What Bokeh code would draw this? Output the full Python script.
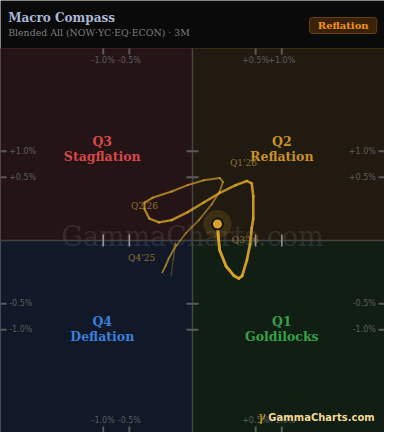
import numpy as np
from bokeh.plotting import figure
from bokeh.models import Range1d
from bokeh.core.properties import value
from bokeh.embed import file_html
from bokeh.resources import INLINE

# ---------------- data (percent units) ----------------
path_x = [-0.0575, -0.0463, -0.0362, -0.0560, -0.0906, -0.1147, -0.0906, -0.0723,
          -0.0322, -0.0052, 0.0052, 0.0463, 0.0926, 0.1162, 0.0926, 0.0158,
          -0.0029, -0.0544, -0.2011, -0.2890, -0.2890, -0.2341, -0.1416, -0.0544,
          -0.0029, 0.0158, 0.0926, 0.2341, 0.3717, 0.4401, 0.4633, 0.4633,
          0.4401, 0.4163, 0.3717, 0.3090, 0.2698, 0.2168, 0.1416, 0.0926,
          0.0824, 0.0782]
path_y = [-0.1566, -0.0458, -0.0010, -0.0224, -0.0834, -0.1284, -0.0773, -0.0400,
          -0.0032, 0.0073, 0.0519, 0.1652, 0.3010, 0.4298, 0.4907, 0.4540,
          0.3848, 0.3010, 0.2286, 0.1803, 0.1246, 0.0605, 0.0413, 0.0519,
          0.1009, 0.1803, 0.2826, 0.3848, 0.4440, 0.4077, 0.2452, 0.0605,
          0.0193, -0.0016, -0.0471, -0.1566, -0.1803, -0.1566, -0.0834, -0.0121,
          0.0045, 0.0342]

quarter_labels = ["Q4'25", "Q1'26", "Q2'26", "Q3'26"]
quarter_x = [-0.3248, 0.3248, -0.2890, 0.3498]
quarter_y = [-0.0371, 0.7505, 0.1482, 0.0001]

tick_values = [-1.0, -0.5, 0.5, 1.0]
tick_labels = ["-1.0%", "-0.5%", "+0.5%", "+1.0%"]

quadrant_codes = ["Q3", "Q2", "Q4", "Q1"]
quadrant_names = ["Stagflation", "Reflation", "Deflation", "Goldilocks"]

title_text = "Macro Compass"
subtitle_text = "Blended All (NOW\u00b7YC\u00b7EQ\u00b7ECON) \u00b7 3M"
regime_text = "Reflation"
brand_text = "GammaCharts.com"

# ---------------- helpers ----------------
def sq(v):
    v = np.asarray(v, dtype=float)
    return np.sign(v) * np.sqrt(np.abs(v))

R = 2.15
U = 4.3 / 384.0          # data units per screen pixel
HDR = 48 * U

def X(px):               # reference-pixel layout -> data
    return (px - 200) * 0.01075

def Y(py):
    if py < 48:
        return R + (48 - py) / 48.0 * HDR
    return (248 - py) * 0.01075

SERIF = value("DejaVu Serif")
SANS = value("DejaVu Sans")

p = figure(width=384, height=432, output_backend="svg", toolbar_location=None,
           x_range=Range1d(-R, R), y_range=Range1d(-R, R + HDR),
           min_border=0, background_fill_color="#0a0a0b", border_fill_color="#0a0a0b")
p.axis.visible = False
p.grid.visible = False
p.outline_line_color = None

# ---------------- quadrants ----------------
p.quad(left=[-R, 0, -R, 0], right=[0, R, 0, R], bottom=[0, 0, -R, -R], top=[R, R, 0, 0],
       fill_color=["#241416", "#201a10", "#111828", "#111e14"],
       line_color=["#401c20", "#3a2e14", "#1c2a48", "#1c3420"], line_width=1)

# watermark
p.text(x=[X(200)], y=[Y(244)], text=[brand_text], text_font=SERIF, text_font_size="27px",
       text_color="#ffffff", text_alpha=0.105, text_align="center", text_baseline="middle")

# center lines
p.segment(x0=[0, -R], y0=[-R, 0], x1=[0, R], y1=[R, 0], line_color="#454545", line_width=1.5)

tv = sq(tick_values)
t6 = 6 * U
# center ticks
p.segment(x0=[-t6] * 4, y0=tv, x1=[t6] * 4, y1=tv, line_color="#5a5a5a", line_width=2)
p.segment(x0=tv, y0=[-t6] * 4, x1=tv, y1=[t6] * 4, line_color="#9a9a9a", line_width=1.5)

# edge ticks
p.segment(x0=tv, y0=[R] * 4, x1=tv, y1=[R - t6] * 4, line_color="#5a5a5a", line_width=2)
p.segment(x0=tv, y0=[-R] * 4, x1=tv, y1=[-R + t6] * 4, line_color="#5a5a5a", line_width=2)
p.segment(x0=[-R] * 4, y0=tv, x1=[-R + t6] * 4, y1=tv, line_color="#5a5a5a", line_width=2)
p.segment(x0=[R] * 4, y0=tv, x1=[R - t6] * 4, y1=tv, line_color="#5a5a5a", line_width=2)

lab_style = dict(text_font=SANS, text_font_size="8px", text_color="#5e5e5e", text_baseline="middle")
p.text(x=tv, y=[Y(61)] * 4, text=tick_labels, text_align="center", **lab_style)
p.text(x=tv, y=[Y(435)] * 4, text=tick_labels, text_align="center", **lab_style)
p.text(x=[X(9)] * 4, y=tv, text=tick_labels, text_align="left", **lab_style)
p.text(x=[X(391)] * 4, y=tv, text=tick_labels, text_align="right", **lab_style)

# quadrant names
qcol = ["#d64848", "#c8912a", "#3a7fd9", "#36a048"]
qx = [X(106), X(293), X(106), X(293)]
p.text(x=qx, y=[Y(145), Y(145), Y(332), Y(332)], text=quadrant_codes, text_color=qcol,
       text_font=SERIF, text_font_style="bold", text_font_size="12.5px",
       text_align="center", text_baseline="middle")
p.text(x=qx, y=[Y(161), Y(161), Y(348), Y(348)], text=quadrant_names, text_color=qcol,
       text_font=SERIF, text_font_style="bold", text_font_size="12.5px",
       text_align="center", text_baseline="middle")

# ---------------- path ----------------
px_ = sq(path_x)
py_ = sq(path_y)
n = len(px_) - 1
f = np.linspace(0.0, 1.0, n)
alphas = 0.28 + 0.72 * f ** 0.6
widths = 1.4 + 1.6 * f
p.segment(x0=px_[:-1], y0=py_[:-1], x1=px_[1:], y1=py_[1:], line_color="#dba52a",
          line_alpha=alphas, line_width=widths, line_cap="round")

p.text(x=sq(quarter_x), y=sq(quarter_y), text=quarter_labels, text_font=SERIF,
       text_font_size="9px", text_color="#8c7133", text_align="center", text_baseline="middle")

# current point
p.scatter(x=[px_[-1]], y=[py_[-1]], size=28, fill_color="#d9a128", fill_alpha=0.16, line_color=None)
p.scatter(x=[px_[-1]], y=[py_[-1]], size=11, fill_color="#d9a128", line_color="#141414", line_width=2)

# ---------------- header ----------------
p.text(x=[X(8)], y=[Y(17)], text=[title_text], text_font=SERIF, text_font_style="bold",
       text_font_size="12px", text_color="#a9b5d3", text_align="left", text_baseline="middle")
p.text(x=[X(8)], y=[Y(32)], text=[subtitle_text], text_font=SERIF, text_font_size="9.4px",
       text_color="#7d7d7d", text_align="left", text_baseline="middle")
p.quad(left=[X(322)], right=[X(392)], bottom=[Y(33)], top=[Y(17)], fill_color="#3a2208",
       line_color="#6a3d12", line_width=1, border_radius=3)
p.text(x=[X(357)], y=[Y(25)], text=[regime_text], text_font=SERIF, text_font_style="bold",
       text_font_size="10px", text_color="#f39020", text_align="center", text_baseline="middle")

# brand
p.text(x=[X(272)], y=[Y(432)], text=["\u03b3"], text_font=SERIF, text_font_style="italic",
       text_font_size="12px", text_color="#d4a020", text_align="center", text_baseline="middle")
p.text(x=[X(279) + 0.6 * U], y=[Y(432) - 0.8 * U], text=[brand_text], text_font=SANS,
       text_font_style="bold", text_font_size="10px", text_color="#000000", text_alpha=0.8,
       text_align="left", text_baseline="middle")
p.text(x=[X(279)], y=[Y(432)], text=[brand_text], text_font=SANS, text_font_style="bold",
       text_font_size="10px", text_color="#f2dc98", text_align="left", text_baseline="middle")

open("out.html", "w").write(file_html(p, INLINE))
